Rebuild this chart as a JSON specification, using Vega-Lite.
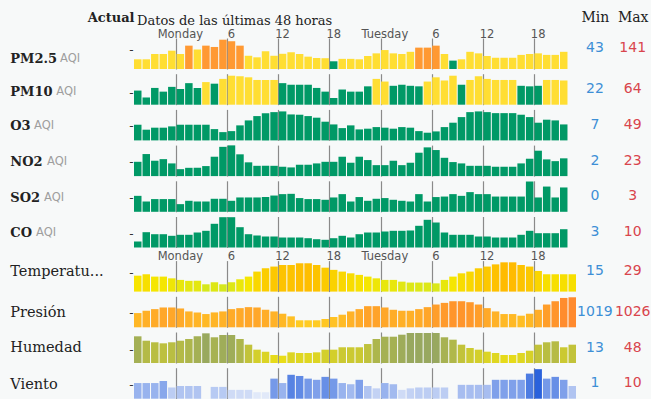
{
"$schema": "https://vega.github.io/schema/vega-lite/v6.json",
"background": "#f7f9f9",
"padding": {"left": 9, "top": 10, "right": 0, "bottom": 0},
"title": {"text": "Actual", "anchor": "start", "frame": "group", "align": "right", "dx": 0.5, "baseline": "alphabetic", "offset": -25.2, "font": "DejaVu Serif", "fontWeight": "bold", "fontSize": 13, "color": "#222222"},
"spacing": 2.6,
"resolve": {"scale": {"color": "independent"}},
"config": {
  "view": {"stroke": null},
  "axis": {"domain": false, "ticks": false, "grid": false, "labelFont": "DejaVu Sans", "titleFont": "DejaVu Serif", "gridColor": "#8a8a8a", "gridWidth": 1.2, "gridOpacity": 1},
  "text": {"font": "DejaVu Sans", "fontSize": 14}
},
"datasets": {
  "stats": [
    {"m": "PM2.5", "s": "Min", "v": 43}, {"m": "PM2.5", "s": "Max", "v": 141},
    {"m": "PM10", "s": "Min", "v": 22}, {"m": "PM10", "s": "Max", "v": 64},
    {"m": "O3", "s": "Min", "v": 7}, {"m": "O3", "s": "Max", "v": 49},
    {"m": "NO2", "s": "Min", "v": 2}, {"m": "NO2", "s": "Max", "v": 23},
    {"m": "SO2", "s": "Min", "v": 0}, {"m": "SO2", "s": "Max", "v": 3},
    {"m": "CO", "s": "Min", "v": 3}, {"m": "CO", "s": "Max", "v": 10},
    {"m": "Temperatura", "s": "Min", "v": 15}, {"m": "Temperatura", "s": "Max", "v": 29},
    {"m": "Presión", "s": "Min", "v": 1019}, {"m": "Presión", "s": "Max", "v": 1026},
    {"m": "Humedad", "s": "Min", "v": 13}, {"m": "Humedad", "s": "Max", "v": 48},
    {"m": "Viento", "s": "Min", "v": 1}, {"m": "Viento", "s": "Max", "v": 10}
  ],
  "pm25": [{"h":0,"v":52},{"h":1,"v":52},{"h":2,"v":76},{"h":3,"v":76},{"h":4,"v":91},{"h":5,"v":76},{"h":6,"v":114},{"h":7,"v":96},{"h":8,"v":114},{"h":9,"v":108},{"h":10,"v":141},{"h":11,"v":134},{"h":12,"v":114},{"h":13,"v":68},{"h":14,"v":61},{"h":15,"v":88},{"h":16,"v":68},{"h":17,"v":77},{"h":18,"v":84},{"h":19,"v":76},{"h":20,"v":64},{"h":21,"v":58},{"h":22,"v":57},{"h":23,"v":43},{"h":24,"v":54},{"h":25,"v":54},{"h":26,"v":52},{"h":27,"v":67},{"h":28,"v":79},{"h":29,"v":94},{"h":30,"v":79},{"h":31,"v":76},{"h":32,"v":86},{"h":33,"v":105},{"h":34,"v":105},{"h":35,"v":114},{"h":36,"v":76},{"h":37,"v":46},{"h":38,"v":52},{"h":39,"v":86},{"h":40,"v":79},{"h":41,"v":67},{"h":42,"v":59},{"h":43,"v":59},{"h":44,"v":59},{"h":45,"v":72},{"h":46,"v":76},{"h":47,"v":79},{"h":48,"v":72},{"h":49,"v":72},{"h":50,"v":86}],
  "pm10": [{"h":0,"v":36},{"h":1,"v":23},{"h":2,"v":41},{"h":3,"v":34},{"h":4,"v":43},{"h":5,"v":39},{"h":6,"v":50},{"h":7,"v":41},{"h":8,"v":52},{"h":9,"v":49},{"h":10,"v":58},{"h":11,"v":64},{"h":12,"v":63},{"h":13,"v":61},{"h":14,"v":56},{"h":15,"v":56},{"h":16,"v":56},{"h":17,"v":50},{"h":18,"v":47},{"h":19,"v":47},{"h":20,"v":47},{"h":21,"v":41},{"h":22,"v":34},{"h":23,"v":22},{"h":24,"v":38},{"h":25,"v":34},{"h":26,"v":34},{"h":27,"v":44},{"h":28,"v":58},{"h":29,"v":53},{"h":30,"v":45},{"h":31,"v":47},{"h":32,"v":45},{"h":33,"v":44},{"h":34,"v":53},{"h":35,"v":61},{"h":36,"v":55},{"h":37,"v":64},{"h":38,"v":47},{"h":39,"v":56},{"h":40,"v":63},{"h":41,"v":58},{"h":42,"v":56},{"h":43,"v":56},{"h":44,"v":56},{"h":45,"v":45},{"h":46,"v":44},{"h":47,"v":45},{"h":48,"v":56},{"h":49,"v":56},{"h":50,"v":55}],
  "o3": [{"h":0,"v":26.5},{"h":1,"v":18.1},{"h":2,"v":21.5},{"h":3,"v":21.5},{"h":4,"v":23.7},{"h":5,"v":26.5},{"h":6,"v":26.5},{"h":7,"v":26.5},{"h":8,"v":26.5},{"h":9,"v":19.1},{"h":10,"v":14},{"h":11,"v":15.7},{"h":12,"v":25.4},{"h":13,"v":33.8},{"h":14,"v":41.1},{"h":15,"v":46.1},{"h":16,"v":47.8},{"h":17,"v":49},{"h":18,"v":43.9},{"h":19,"v":43.4},{"h":20,"v":41.1},{"h":21,"v":38.4},{"h":22,"v":31.6},{"h":23,"v":27},{"h":24,"v":20.8},{"h":25,"v":25.4},{"h":26,"v":18.6},{"h":27,"v":19.8},{"h":28,"v":22.5},{"h":29,"v":21.5},{"h":30,"v":19.8},{"h":31,"v":22.5},{"h":32,"v":21.5},{"h":33,"v":15.7},{"h":34,"v":13},{"h":35,"v":15.2},{"h":36,"v":22.5},{"h":37,"v":29.9},{"h":38,"v":39.4},{"h":39,"v":47.8},{"h":40,"v":49},{"h":41,"v":47.8},{"h":42,"v":46.1},{"h":43,"v":46.1},{"h":44,"v":46.1},{"h":45,"v":43.4},{"h":46,"v":39.4},{"h":47,"v":29.9},{"h":48,"v":35},{"h":49,"v":33.8},{"h":50,"v":27}],
  "no2": [{"h":0,"v":10.7},{"h":1,"v":16.5},{"h":2,"v":11.5},{"h":3,"v":12.7},{"h":4,"v":9.5},{"h":5,"v":5.2},{"h":6,"v":6.2},{"h":7,"v":6.2},{"h":8,"v":7.5},{"h":9,"v":14.5},{"h":10,"v":21.9},{"h":11,"v":23},{"h":12,"v":16.3},{"h":13,"v":10.3},{"h":14,"v":7.7},{"h":15,"v":7.7},{"h":16,"v":7.7},{"h":17,"v":7},{"h":18,"v":6.5},{"h":19,"v":8.5},{"h":20,"v":8.5},{"h":21,"v":9.5},{"h":22,"v":10.7},{"h":23,"v":10.7},{"h":24,"v":14.5},{"h":25,"v":10},{"h":26,"v":14.5},{"h":27,"v":12},{"h":28,"v":8.2},{"h":29,"v":8.2},{"h":30,"v":11.5},{"h":31,"v":8.2},{"h":32,"v":10},{"h":33,"v":17.5},{"h":34,"v":21.5},{"h":35,"v":19.5},{"h":36,"v":13.7},{"h":37,"v":10.5},{"h":38,"v":9.5},{"h":39,"v":7.7},{"h":40,"v":7.7},{"h":41,"v":7.7},{"h":42,"v":7},{"h":43,"v":7},{"h":44,"v":7},{"h":45,"v":9.5},{"h":46,"v":13},{"h":47,"v":19},{"h":48,"v":12.5},{"h":49,"v":11.2},{"h":50,"v":13.3}],
  "so2": [{"h":0,"v":1.58},{"h":1,"v":1.02},{"h":2,"v":1.26},{"h":3,"v":1.26},{"h":4,"v":1.26},{"h":5,"v":0.76},{"h":6,"v":1.09},{"h":7,"v":1.02},{"h":8,"v":1.02},{"h":9,"v":1.29},{"h":10,"v":1.29},{"h":11,"v":1.09},{"h":12,"v":1.42},{"h":13,"v":1.42},{"h":14,"v":1.42},{"h":15,"v":1.46},{"h":16,"v":1.61},{"h":17,"v":1.75},{"h":18,"v":1.78},{"h":19,"v":1.36},{"h":20,"v":1.26},{"h":21,"v":1.26},{"h":22,"v":1.19},{"h":23,"v":1.42},{"h":24,"v":1.75},{"h":25,"v":1.02},{"h":26,"v":1.46},{"h":27,"v":1.09},{"h":28,"v":1.29},{"h":29,"v":1.36},{"h":30,"v":1.19},{"h":31,"v":1.09},{"h":32,"v":1.02},{"h":33,"v":1.75},{"h":34,"v":1.02},{"h":35,"v":1.46},{"h":36,"v":1.51},{"h":37,"v":1.75},{"h":38,"v":1.58},{"h":39,"v":1.95},{"h":40,"v":1.75},{"h":41,"v":1.75},{"h":42,"v":1.51},{"h":43,"v":1.51},{"h":44,"v":1.51},{"h":45,"v":1.51},{"h":46,"v":3},{"h":47,"v":1.42},{"h":48,"v":2.5},{"h":49,"v":1.42},{"h":50,"v":2.41}],
  "co": [{"h":0,"v":3},{"h":1,"v":5.68},{"h":2,"v":5.1},{"h":3,"v":5.1},{"h":4,"v":4.64},{"h":5,"v":4.93},{"h":6,"v":4.93},{"h":7,"v":5.59},{"h":8,"v":6.08},{"h":9,"v":8.1},{"h":10,"v":10},{"h":11,"v":10},{"h":12,"v":7.12},{"h":13,"v":5.1},{"h":14,"v":4.73},{"h":15,"v":4.44},{"h":16,"v":4.44},{"h":17,"v":4.15},{"h":18,"v":4.15},{"h":19,"v":4.15},{"h":20,"v":3.95},{"h":21,"v":3.66},{"h":22,"v":3.49},{"h":23,"v":3.95},{"h":24,"v":4.64},{"h":25,"v":4.15},{"h":26,"v":5.1},{"h":27,"v":5.59},{"h":28,"v":5.59},{"h":29,"v":5.88},{"h":30,"v":6.08},{"h":31,"v":6.08},{"h":32,"v":6.17},{"h":33,"v":7.52},{"h":34,"v":9.25},{"h":35,"v":8.47},{"h":36,"v":5.59},{"h":37,"v":4.93},{"h":38,"v":4.93},{"h":39,"v":4.93},{"h":40,"v":4.44},{"h":41,"v":4.44},{"h":42,"v":4.15},{"h":43,"v":4.15},{"h":44,"v":4.15},{"h":45,"v":4.93},{"h":46,"v":6.08},{"h":47,"v":5.39},{"h":48,"v":5.39},{"h":49,"v":5.39},{"h":50,"v":6.54}],
  "temp": [{"h":0,"v":20.5},{"h":1,"v":21.4},{"h":2,"v":19.9},{"h":3,"v":19.9},{"h":4,"v":18.8},{"h":5,"v":17.8},{"h":6,"v":17.2},{"h":7,"v":17.2},{"h":8,"v":15},{"h":9,"v":16.3},{"h":10,"v":15},{"h":11,"v":16.3},{"h":12,"v":18.2},{"h":13,"v":19.9},{"h":14,"v":23.1},{"h":15,"v":25.2},{"h":16,"v":26.3},{"h":17,"v":27.3},{"h":18,"v":27.3},{"h":19,"v":28.4},{"h":20,"v":28.4},{"h":21,"v":27.3},{"h":22,"v":25.6},{"h":23,"v":24.2},{"h":24,"v":23.1},{"h":25,"v":22},{"h":26,"v":21},{"h":27,"v":19.9},{"h":28,"v":18.8},{"h":29,"v":17.8},{"h":30,"v":17.8},{"h":31,"v":16.7},{"h":32,"v":16.1},{"h":33,"v":16.1},{"h":34,"v":16.1},{"h":35,"v":15.6},{"h":36,"v":17.8},{"h":37,"v":19.9},{"h":38,"v":22},{"h":39,"v":23.1},{"h":40,"v":25.2},{"h":41,"v":26.3},{"h":42,"v":27.7},{"h":43,"v":29},{"h":44,"v":29},{"h":45,"v":27.3},{"h":46,"v":26.3},{"h":47,"v":23.5},{"h":48,"v":21.4},{"h":49,"v":21.4},{"h":50,"v":21.4},{"h":51,"v":21.4}],
  "pres": [{"h":0,"v":1021.2},{"h":1,"v":1021.9},{"h":2,"v":1022.4},{"h":3,"v":1022.9},{"h":4,"v":1022.9},{"h":5,"v":1022.6},{"h":6,"v":1021.7},{"h":7,"v":1021.4},{"h":8,"v":1020.9},{"h":9,"v":1021.4},{"h":10,"v":1021.7},{"h":11,"v":1022.4},{"h":12,"v":1022.7},{"h":13,"v":1023},{"h":14,"v":1022.9},{"h":15,"v":1022.2},{"h":16,"v":1021.7},{"h":17,"v":1021},{"h":18,"v":1020.2},{"h":19,"v":1019},{"h":20,"v":1019},{"h":21,"v":1019},{"h":22,"v":1019.4},{"h":23,"v":1020},{"h":24,"v":1020.7},{"h":25,"v":1021.7},{"h":26,"v":1022.4},{"h":27,"v":1023.3},{"h":28,"v":1023.3},{"h":29,"v":1022.9},{"h":30,"v":1022.2},{"h":31,"v":1021.9},{"h":32,"v":1021.9},{"h":33,"v":1022.4},{"h":34,"v":1023},{"h":35,"v":1023.8},{"h":36,"v":1024.3},{"h":37,"v":1024.8},{"h":38,"v":1024.8},{"h":39,"v":1024.5},{"h":40,"v":1023.8},{"h":41,"v":1022.7},{"h":42,"v":1021.7},{"h":43,"v":1020.9},{"h":44,"v":1020.9},{"h":45,"v":1020.4},{"h":46,"v":1021},{"h":47,"v":1022.2},{"h":48,"v":1023.8},{"h":49,"v":1024.8},{"h":50,"v":1025.8},{"h":51,"v":1026}],
  "hum": [{"h":0,"v":42.9},{"h":1,"v":36.1},{"h":2,"v":33.7},{"h":3,"v":32.1},{"h":4,"v":33.7},{"h":5,"v":36.1},{"h":6,"v":38.8},{"h":7,"v":42.9},{"h":8,"v":47.5},{"h":9,"v":41.4},{"h":10,"v":44.9},{"h":11,"v":44.9},{"h":12,"v":38.8},{"h":13,"v":30},{"h":14,"v":22.3},{"h":15,"v":19.2},{"h":16,"v":14.1},{"h":17,"v":13},{"h":18,"v":18.2},{"h":19,"v":17.2},{"h":20,"v":17.2},{"h":21,"v":18.2},{"h":22,"v":22.3},{"h":23,"v":22.3},{"h":24,"v":26},{"h":25,"v":26},{"h":26,"v":26},{"h":27,"v":31},{"h":28,"v":38.8},{"h":29,"v":42.3},{"h":30,"v":42.3},{"h":31,"v":45.4},{"h":32,"v":48},{"h":33,"v":48},{"h":34,"v":48},{"h":35,"v":48},{"h":36,"v":41.4},{"h":37,"v":37.7},{"h":38,"v":30},{"h":39,"v":24.9},{"h":40,"v":22.3},{"h":41,"v":19.2},{"h":42,"v":17.2},{"h":43,"v":14.1},{"h":44,"v":14.1},{"h":45,"v":17.2},{"h":46,"v":20.7},{"h":47,"v":30},{"h":48,"v":33.7},{"h":49,"v":35.2},{"h":50,"v":26},{"h":51,"v":30}],
  "wind": [{"h":0,"v":5.3},{"h":1,"v":5.3},{"h":2,"v":5.3},{"h":3,"v":6},{"h":4,"v":3.8},{"h":5,"v":4.3},{"h":6,"v":4.3},{"h":7,"v":4.3},{"h":9,"v":4},{"h":10,"v":4},{"h":11,"v":3},{"h":12,"v":3},{"h":13,"v":3},{"h":14,"v":2.2},{"h":15,"v":2.2},{"h":16,"v":6.8},{"h":17,"v":5.3},{"h":18,"v":8.1},{"h":19,"v":7.7},{"h":20,"v":6.8},{"h":21,"v":6.4},{"h":22,"v":7.4},{"h":23,"v":6.8},{"h":24,"v":5.3},{"h":25,"v":4.9},{"h":26,"v":6.4},{"h":27,"v":4.3},{"h":28,"v":3.5},{"h":29,"v":5.3},{"h":30,"v":4.9},{"h":31,"v":3},{"h":32,"v":3.5},{"h":33,"v":3.8},{"h":34,"v":3.8},{"h":35,"v":3.8},{"h":36,"v":3.8},{"h":38,"v":4.7},{"h":39,"v":4.7},{"h":40,"v":4.7},{"h":41,"v":4.7},{"h":42,"v":6.4},{"h":43,"v":6.4},{"h":44,"v":6.4},{"h":45,"v":6.4},{"h":46,"v":8.5},{"h":47,"v":10},{"h":48,"v":6.8},{"h":49,"v":7.4},{"h":50,"v":6.4},{"h":51,"v":4.3}]
},
"vconcat": [
{"hconcat": [
 {"vconcat": [
  {"width": 442, "height": 31, "data": {"name": "pm25"}, "mark": "bar",
   "title": {"text": "Datos de las últimas 48 horas", "anchor": "start", "frame": "group", "dx": 3, "baseline": "alphabetic", "offset": -9.7, "font": "DejaVu Serif", "fontSize": 13, "fontWeight": "normal", "color": "#222222"},
   "encoding": {
    "x": {"field": "h", "type": "ordinal", "scale": {"domain": [0,1,2,3,4,5,6,7,8,9,10,11,12,13,14,15,16,17,18,19,20,21,22,23,24,25,26,27,28,29,30,31,32,33,34,35,36,37,38,39,40,41,42,43,44,45,46,47,48,49,50,51], "paddingInner": 0.12, "paddingOuter": 0},
      "axis": {"orient": "top", "values": [5,11,17,23,29,35,41,47], "bandPosition": 0, "grid": true, "labels": true, "labelAngle": 0, "labelOverlap": false, "labelExpr": "datum.value == 5 ? 'Monday' : datum.value == 29 ? 'Tuesday' : '' + ((datum.value - 5) % 24)", "labelFontSize": 11.5, "labelColor": "#555555", "labelPadding": -1,
        "title": "AQI", "titleX": -74.5, "titleY": 20.7, "titleAlign": "left", "titleBaseline": "middle", "titleFont": "DejaVu Sans", "titleFontSize": 11.5, "titleFontWeight": "normal", "titleColor": "#9e9e9e"}},
    "y": {"field": "v", "type": "quantitative", "stack": null, "scale": {"domain": [8, 148.7]},
      "axis": {"title": "PM2.5", "titleAngle": 0, "titleAlign": "left", "titleBaseline": "middle", "titleX": -124.2, "titleY": 20.7, "titleFontWeight": "bold", "titleFontSize": 13, "titleColor": "#222222", "values": [95.6], "labelExpr": "'-'", "labelPadding": 1, "labelFontSize": 12, "labelColor": "#333333"}},
    "color": {"field": "v", "type": "quantitative", "scale": {"type": "threshold", "domain": [51, 101], "range": ["#009966", "#ffde33", "#ff9933"]}, "legend": null}
   }},
  {"width": 442, "height": 31, "data": {"name": "pm10"}, "mark": "bar",
   "encoding": {
    "x": {"field": "h", "type": "ordinal", "scale": {"domain": [0,1,2,3,4,5,6,7,8,9,10,11,12,13,14,15,16,17,18,19,20,21,22,23,24,25,26,27,28,29,30,31,32,33,34,35,36,37,38,39,40,41,42,43,44,45,46,47,48,49,50,51], "paddingInner": 0.12, "paddingOuter": 0},
      "axis": {"orient": "top", "values": [5,11,17,23,29,35,41,47], "bandPosition": 0, "grid": true, "labels": false,
        "title": "AQI", "titleX": -78.2, "titleY": 17.7, "titleAlign": "left", "titleBaseline": "middle", "titleFont": "DejaVu Sans", "titleFontSize": 11.5, "titleFontWeight": "normal", "titleColor": "#9e9e9e"}},
    "y": {"field": "v", "type": "quantitative", "stack": null, "scale": {"domain": [9.4, 67.8]},
      "axis": {"title": "PM10", "titleAngle": 0, "titleAlign": "left", "titleBaseline": "middle", "titleX": -124.2, "titleY": 17.7, "titleFontWeight": "bold", "titleFontSize": 13, "titleColor": "#222222", "values": [32.6], "labelExpr": "'-'", "labelPadding": 1, "labelFontSize": 12, "labelColor": "#333333"}},
    "color": {"field": "v", "type": "quantitative", "scale": {"type": "threshold", "domain": [51, 101], "range": ["#009966", "#ffde33", "#ff9933"]}, "legend": null}
   }},
  {"width": 442, "height": 31, "data": {"name": "o3"}, "mark": "bar",
   "encoding": {
    "x": {"field": "h", "type": "ordinal", "scale": {"domain": [0,1,2,3,4,5,6,7,8,9,10,11,12,13,14,15,16,17,18,19,20,21,22,23,24,25,26,27,28,29,30,31,32,33,34,35,36,37,38,39,40,41,42,43,44,45,46,47,48,49,50,51], "paddingInner": 0.12, "paddingOuter": 0},
      "axis": {"orient": "top", "values": [5,11,17,23,29,35,41,47], "bandPosition": 0, "grid": true, "labels": false,
        "title": "AQI", "titleX": -100.5, "titleY": 16, "titleAlign": "left", "titleBaseline": "middle", "titleFont": "DejaVu Sans", "titleFontSize": 11.5, "titleFontWeight": "normal", "titleColor": "#9e9e9e"}},
    "y": {"field": "v", "type": "quantitative", "stack": null, "scale": {"domain": [0, 52.4]},
      "axis": {"title": "O3", "titleAngle": 0, "titleAlign": "left", "titleBaseline": "middle", "titleX": -124.2, "titleY": 16, "titleFontWeight": "bold", "titleFontSize": 13, "titleColor": "#222222", "values": [25.4], "labelExpr": "'-'", "labelPadding": 1, "labelFontSize": 12, "labelColor": "#333333"}},
    "color": {"field": "v", "type": "quantitative", "scale": {"type": "threshold", "domain": [51, 101], "range": ["#009966", "#ffde33", "#ff9933"]}, "legend": null}
   }},
  {"width": 442, "height": 31, "data": {"name": "no2"}, "mark": "bar",
   "encoding": {
    "x": {"field": "h", "type": "ordinal", "scale": {"domain": [0,1,2,3,4,5,6,7,8,9,10,11,12,13,14,15,16,17,18,19,20,21,22,23,24,25,26,27,28,29,30,31,32,33,34,35,36,37,38,39,40,41,42,43,44,45,46,47,48,49,50,51], "paddingInner": 0.12, "paddingOuter": 0},
      "axis": {"orient": "top", "values": [5,11,17,23,29,35,41,47], "bandPosition": 0, "grid": true, "labels": false,
        "title": "AQI", "titleX": -87.5, "titleY": 16.7, "titleAlign": "left", "titleBaseline": "middle", "titleFont": "DejaVu Sans", "titleFontSize": 11.5, "titleFontWeight": "normal", "titleColor": "#9e9e9e"}},
    "y": {"field": "v", "type": "quantitative", "stack": null, "scale": {"domain": [0, 23.2]},
      "axis": {"title": "NO2", "titleAngle": 0, "titleAlign": "left", "titleBaseline": "middle", "titleX": -124.2, "titleY": 16.7, "titleFontWeight": "bold", "titleFontSize": 13, "titleColor": "#222222", "values": [10.7], "labelExpr": "'-'", "labelPadding": 1, "labelFontSize": 12, "labelColor": "#333333"}},
    "color": {"field": "v", "type": "quantitative", "scale": {"type": "threshold", "domain": [51, 101], "range": ["#009966", "#ffde33", "#ff9933"]}, "legend": null}
   }},
  {"width": 442, "height": 31, "data": {"name": "so2"}, "mark": "bar",
   "encoding": {
    "x": {"field": "h", "type": "ordinal", "scale": {"domain": [0,1,2,3,4,5,6,7,8,9,10,11,12,13,14,15,16,17,18,19,20,21,22,23,24,25,26,27,28,29,30,31,32,33,34,35,36,37,38,39,40,41,42,43,44,45,46,47,48,49,50,51], "paddingInner": 0.12, "paddingOuter": 0},
      "axis": {"orient": "top", "values": [5,11,17,23,29,35,41,47], "bandPosition": 0, "grid": true, "labels": false,
        "title": "AQI", "titleX": -90.5, "titleY": 16.7, "titleAlign": "left", "titleBaseline": "middle", "titleFont": "DejaVu Sans", "titleFontSize": 11.5, "titleFontWeight": "normal", "titleColor": "#9e9e9e"}},
    "y": {"field": "v", "type": "quantitative", "stack": null, "scale": {"domain": [0, 3.07]},
      "axis": {"title": "SO2", "titleAngle": 0, "titleAlign": "left", "titleBaseline": "middle", "titleX": -124.2, "titleY": 16.7, "titleFontWeight": "bold", "titleFontSize": 13, "titleColor": "#222222", "values": [1.42], "labelExpr": "'-'", "labelPadding": 1, "labelFontSize": 12, "labelColor": "#333333"}},
    "color": {"field": "v", "type": "quantitative", "scale": {"type": "threshold", "domain": [51, 101], "range": ["#009966", "#ffde33", "#ff9933"]}, "legend": null}
   }},
  {"width": 442, "height": 31, "data": {"name": "co"}, "mark": "bar",
   "encoding": {
    "x": {"field": "h", "type": "ordinal", "scale": {"domain": [0,1,2,3,4,5,6,7,8,9,10,11,12,13,14,15,16,17,18,19,20,21,22,23,24,25,26,27,28,29,30,31,32,33,34,35,36,37,38,39,40,41,42,43,44,45,46,47,48,49,50,51], "paddingInner": 0.12, "paddingOuter": 0},
      "axis": {"orient": "top", "values": [5,11,17,23,29,35,41,47], "bandPosition": 0, "grid": true, "labels": false,
        "title": "AQI", "titleX": -98.5, "titleY": 16.3, "titleAlign": "left", "titleBaseline": "middle", "titleFont": "DejaVu Sans", "titleFontSize": 11.5, "titleFontWeight": "normal", "titleColor": "#9e9e9e"}},
    "y": {"field": "v", "type": "quantitative", "stack": null, "scale": {"domain": [1.27, 10.2]},
      "axis": {"title": "CO", "titleAngle": 0, "titleAlign": "left", "titleBaseline": "middle", "titleX": -124.2, "titleY": 16.3, "titleFontWeight": "bold", "titleFontSize": 13, "titleColor": "#222222", "values": [5.22], "labelExpr": "'-'", "labelPadding": 1, "labelFontSize": 12, "labelColor": "#333333"}},
    "color": {"field": "v", "type": "quantitative", "scale": {"type": "threshold", "domain": [51, 101], "range": ["#009966", "#ffde33", "#ff9933"]}, "legend": null}
   }}
 ], "spacing": 4.7, "bounds": "flush", "resolve": {"scale": {"color": "independent"}}},
 {"vconcat": [
  {"width": 75.6, "height": 31, "data": {"name": "stats"}, "transform": [{"filter": "datum.m == 'PM2.5'"}], "mark": {"type": "text", "dy": -5.5},
   "encoding": {
    "x": {"field": "s", "type": "nominal", "scale": {"type": "point", "domain": ["Min", "Max"]},
      "axis": {"orient": "top", "labels": true, "labelAngle": 0, "labelFont": "DejaVu Serif", "labelFontSize": 14, "labelColor": "#222222", "labelPadding": 14, "title": null}},
    "text": {"field": "v", "type": "nominal"},
    "color": {"field": "s", "type": "nominal", "scale": {"domain": ["Min", "Max"], "range": ["#3d8fd6", "#d9454d"]}, "legend": null}
   }},
  {"width": 75.6, "height": 31, "data": {"name": "stats"}, "transform": [{"filter": "datum.m == 'PM10'"}], "mark": {"type": "text"},
   "encoding": {
    "x": {"field": "s", "type": "nominal", "scale": {"type": "point", "domain": ["Min", "Max"]}, "axis": null},
    "text": {"field": "v", "type": "nominal"},
    "color": {"field": "s", "type": "nominal", "scale": {"domain": ["Min", "Max"], "range": ["#3d8fd6", "#d9454d"]}, "legend": null}
   }},
  {"width": 75.6, "height": 31, "data": {"name": "stats"}, "transform": [{"filter": "datum.m == 'O3'"}], "mark": {"type": "text"},
   "encoding": {
    "x": {"field": "s", "type": "nominal", "scale": {"type": "point", "domain": ["Min", "Max"]}, "axis": null},
    "text": {"field": "v", "type": "nominal"},
    "color": {"field": "s", "type": "nominal", "scale": {"domain": ["Min", "Max"], "range": ["#3d8fd6", "#d9454d"]}, "legend": null}
   }},
  {"width": 75.6, "height": 31, "data": {"name": "stats"}, "transform": [{"filter": "datum.m == 'NO2'"}], "mark": {"type": "text"},
   "encoding": {
    "x": {"field": "s", "type": "nominal", "scale": {"type": "point", "domain": ["Min", "Max"]}, "axis": null},
    "text": {"field": "v", "type": "nominal"},
    "color": {"field": "s", "type": "nominal", "scale": {"domain": ["Min", "Max"], "range": ["#3d8fd6", "#d9454d"]}, "legend": null}
   }},
  {"width": 75.6, "height": 31, "data": {"name": "stats"}, "transform": [{"filter": "datum.m == 'SO2'"}], "mark": {"type": "text"},
   "encoding": {
    "x": {"field": "s", "type": "nominal", "scale": {"type": "point", "domain": ["Min", "Max"]}, "axis": null},
    "text": {"field": "v", "type": "nominal"},
    "color": {"field": "s", "type": "nominal", "scale": {"domain": ["Min", "Max"], "range": ["#3d8fd6", "#d9454d"]}, "legend": null}
   }},
  {"width": 75.6, "height": 31, "data": {"name": "stats"}, "transform": [{"filter": "datum.m == 'CO'"}], "mark": {"type": "text"},
   "encoding": {
    "x": {"field": "s", "type": "nominal", "scale": {"type": "point", "domain": ["Min", "Max"]}, "axis": null},
    "text": {"field": "v", "type": "nominal"},
    "color": {"field": "s", "type": "nominal", "scale": {"domain": ["Min", "Max"], "range": ["#3d8fd6", "#d9454d"]}, "legend": null}
   }}
 ], "spacing": 4.7, "bounds": "flush", "resolve": {"scale": {"color": "independent"}}}
], "spacing": 0, "resolve": {"scale": {"color": "independent"}}},
{"hconcat": [
 {"vconcat": [
  {"width": 442, "height": 31, "data": {"name": "temp"}, "mark": "bar",
   "encoding": {
    "x": {"field": "h", "type": "ordinal", "scale": {"domain": [0,1,2,3,4,5,6,7,8,9,10,11,12,13,14,15,16,17,18,19,20,21,22,23,24,25,26,27,28,29,30,31,32,33,34,35,36,37,38,39,40,41,42,43,44,45,46,47,48,49,50,51], "paddingInner": 0.12, "paddingOuter": 0},
      "axis": {"orient": "top", "values": [5,11,17,23,29,35,41,47], "bandPosition": 0, "grid": true, "labels": true, "labelAngle": 0, "labelOverlap": false, "labelExpr": "datum.value == 5 ? 'Monday' : datum.value == 29 ? 'Tuesday' : '' + ((datum.value - 5) % 24)", "labelFontSize": 11.5, "labelColor": "#555555", "labelPadding": -1, "title": null}},
    "y": {"field": "v", "type": "quantitative", "stack": null, "scale": {"domain": [10.35, 30.1]},
      "axis": {"title": "Temperatu...", "titleAngle": 0, "titleAlign": "left", "titleBaseline": "middle", "titleX": -124.2, "titleY": 11, "titleFontWeight": "normal", "titleFontSize": 14.5, "titleColor": "#222222", "values": [22.65], "labelExpr": "'-'", "labelPadding": 1, "labelFontSize": 12, "labelColor": "#333333"}},
    "color": {"field": "v", "type": "quantitative", "scale": {"domain": [15, 20, 29], "range": ["#d6e81c", "#f6e600", "#ffbb00"], "interpolate": "rgb"}, "legend": null}
   }},
  {"width": 442, "height": 31, "data": {"name": "pres"}, "mark": "bar",
   "encoding": {
    "x": {"field": "h", "type": "ordinal", "scale": {"domain": [0,1,2,3,4,5,6,7,8,9,10,11,12,13,14,15,16,17,18,19,20,21,22,23,24,25,26,27,28,29,30,31,32,33,34,35,36,37,38,39,40,41,42,43,44,45,46,47,48,49,50,51], "paddingInner": 0.12, "paddingOuter": 0},
      "axis": {"orient": "top", "values": [5,11,17,23,29,35,41,47], "bandPosition": 0, "grid": true, "labels": false, "title": null}},
    "y": {"field": "v", "type": "quantitative", "stack": null, "scale": {"domain": [1016.87, 1026.3]},
      "axis": {"title": "Presión", "titleAngle": 0, "titleAlign": "left", "titleBaseline": "middle", "titleX": -124.2, "titleY": 16.5, "titleFontWeight": "normal", "titleFontSize": 14.5, "titleColor": "#222222", "values": [1021.25], "labelExpr": "'-'", "labelPadding": 1, "labelFontSize": 12, "labelColor": "#333333"}},
    "color": {"field": "v", "type": "quantitative", "scale": {"domain": [1019, 1026], "range": ["#ffcb22", "#ff8a2e"], "interpolate": "rgb"}, "legend": null}
   }},
  {"width": 442, "height": 31, "data": {"name": "hum"}, "mark": "bar",
   "encoding": {
    "x": {"field": "h", "type": "ordinal", "scale": {"domain": [0,1,2,3,4,5,6,7,8,9,10,11,12,13,14,15,16,17,18,19,20,21,22,23,24,25,26,27,28,29,30,31,32,33,34,35,36,37,38,39,40,41,42,43,44,45,46,47,48,49,50,51], "paddingInner": 0.12, "paddingOuter": 0},
      "axis": {"orient": "top", "values": [5,11,17,23,29,35,41,47], "bandPosition": 0, "grid": true, "labels": false, "title": null}},
    "y": {"field": "v", "type": "quantitative", "stack": null, "scale": {"domain": [1.75, 49.55]},
      "axis": {"title": "Humedad", "titleAngle": 0, "titleAlign": "left", "titleBaseline": "middle", "titleX": -124.2, "titleY": 15.7, "titleFontWeight": "normal", "titleFontSize": 14.5, "titleColor": "#222222", "values": [23.3], "labelExpr": "'-'", "labelPadding": 1, "labelFontSize": 12, "labelColor": "#333333"}},
    "color": {"field": "v", "type": "quantitative", "scale": {"domain": [13, 48], "range": ["#e9dd18", "#98a85f"], "interpolate": "rgb"}, "legend": null}
   }},
  {"width": 442, "height": 31, "data": {"name": "wind"}, "mark": "bar",
   "encoding": {
    "x": {"field": "h", "type": "ordinal", "scale": {"domain": [0,1,2,3,4,5,6,7,8,9,10,11,12,13,14,15,16,17,18,19,20,21,22,23,24,25,26,27,28,29,30,31,32,33,34,35,36,37,38,39,40,41,42,43,44,45,46,47,48,49,50,51], "paddingInner": 0.12, "paddingOuter": 0},
      "axis": {"orient": "top", "values": [5,11,17,23,29,35,41,47], "bandPosition": 0, "grid": true, "labels": false, "title": null}},
    "y": {"field": "v", "type": "quantitative", "stack": null, "scale": {"domain": [0, 10.5]},
      "axis": {"title": "Viento", "titleAngle": 0, "titleAlign": "left", "titleBaseline": "middle", "titleX": -124.2, "titleY": 16.5, "titleFontWeight": "normal", "titleFontSize": 14.5, "titleColor": "#222222", "values": [4.9], "labelExpr": "'-'", "labelPadding": 1, "labelFontSize": 12, "labelColor": "#333333"}},
    "color": {"field": "v", "type": "quantitative", "scale": {"domain": [2, 10], "range": ["#e6ecfa", "#2a62dc"], "interpolate": "rgb"}, "legend": null}
   }}
 ], "spacing": 4.7, "bounds": "flush", "resolve": {"scale": {"color": "independent"}}},
 {"vconcat": [
  {"width": 75.6, "height": 31, "data": {"name": "stats"}, "transform": [{"filter": "datum.m == 'Temperatura'"}], "mark": {"type": "text", "dy": -5},
   "encoding": {
    "x": {"field": "s", "type": "nominal", "scale": {"type": "point", "domain": ["Min", "Max"]}, "axis": null},
    "text": {"field": "v", "type": "nominal"},
    "color": {"field": "s", "type": "nominal", "scale": {"domain": ["Min", "Max"], "range": ["#3d8fd6", "#d9454d"]}, "legend": null}
   }},
  {"width": 75.6, "height": 31, "data": {"name": "stats"}, "transform": [{"filter": "datum.m == 'Presión'"}], "mark": {"type": "text"},
   "encoding": {
    "x": {"field": "s", "type": "nominal", "scale": {"type": "point", "domain": ["Min", "Max"]}, "axis": null},
    "text": {"field": "v", "type": "nominal"},
    "color": {"field": "s", "type": "nominal", "scale": {"domain": ["Min", "Max"], "range": ["#3d8fd6", "#d9454d"]}, "legend": null}
   }},
  {"width": 75.6, "height": 31, "data": {"name": "stats"}, "transform": [{"filter": "datum.m == 'Humedad'"}], "mark": {"type": "text"},
   "encoding": {
    "x": {"field": "s", "type": "nominal", "scale": {"type": "point", "domain": ["Min", "Max"]}, "axis": null},
    "text": {"field": "v", "type": "nominal"},
    "color": {"field": "s", "type": "nominal", "scale": {"domain": ["Min", "Max"], "range": ["#3d8fd6", "#d9454d"]}, "legend": null}
   }},
  {"width": 75.6, "height": 31, "data": {"name": "stats"}, "transform": [{"filter": "datum.m == 'Viento'"}], "mark": {"type": "text"},
   "encoding": {
    "x": {"field": "s", "type": "nominal", "scale": {"type": "point", "domain": ["Min", "Max"]}, "axis": null},
    "text": {"field": "v", "type": "nominal"},
    "color": {"field": "s", "type": "nominal", "scale": {"domain": ["Min", "Max"], "range": ["#3d8fd6", "#d9454d"]}, "legend": null}
   }}
 ], "spacing": 4.7, "bounds": "flush", "resolve": {"scale": {"color": "independent"}}}
], "spacing": 0, "resolve": {"scale": {"color": "independent"}}}
]
}
